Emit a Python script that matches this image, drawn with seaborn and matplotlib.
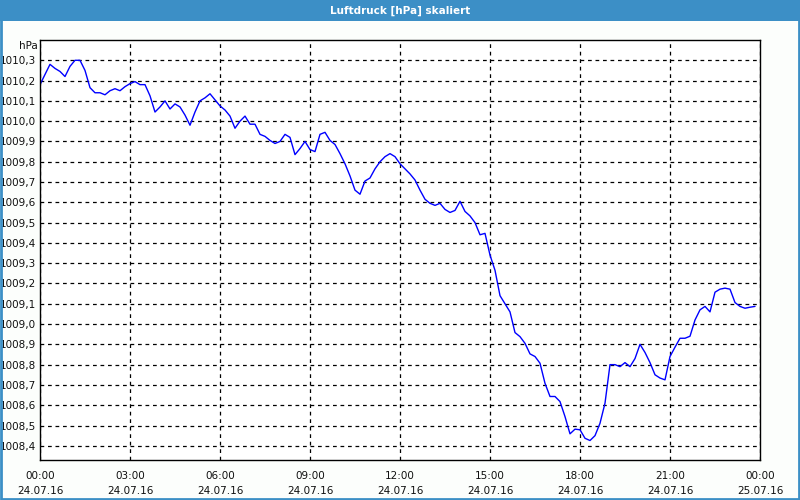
import numpy as np
import pandas as pd
import matplotlib
matplotlib.use("Agg")
import matplotlib.pyplot as plt
import matplotlib.dates as mdates
from matplotlib.patches import Rectangle
from matplotlib.ticker import FuncFormatter, FixedLocator
import seaborn as sns

title = "Luftdruck [hPa] skaliert"
unit = "hPa"
start_time = "2016-07-24 00:00"
step = "10min"
pressure = [
    1010.18, 1010.23, 1010.28, 1010.26, 1010.245, 1010.22, 1010.27, 1010.30, 1010.30, 1010.25,
    1010.165, 1010.14, 1010.14, 1010.13, 1010.15, 1010.16, 1010.15, 1010.17, 1010.185, 1010.195,
    1010.18, 1010.18, 1010.125, 1010.045, 1010.07, 1010.10, 1010.06, 1010.085, 1010.07, 1010.03,
    1009.98, 1010.045, 1010.10, 1010.115, 1010.135, 1010.105, 1010.075, 1010.055, 1010.025, 1009.965,
    1010.0, 1010.025, 1009.985, 1009.985, 1009.935, 1009.925, 1009.905, 1009.89, 1009.90, 1009.935,
    1009.92, 1009.835, 1009.865, 1009.90, 1009.86, 1009.85, 1009.935, 1009.945, 1009.905, 1009.885,
    1009.84, 1009.79, 1009.73, 1009.66, 1009.64, 1009.705, 1009.72, 1009.765, 1009.80, 1009.825,
    1009.84, 1009.825, 1009.79, 1009.765, 1009.74, 1009.71, 1009.66, 1009.615, 1009.595, 1009.585,
    1009.595, 1009.565, 1009.55, 1009.56, 1009.605, 1009.555, 1009.533, 1009.50, 1009.44, 1009.447,
    1009.34, 1009.265, 1009.14, 1009.10, 1009.06, 1008.958, 1008.938, 1008.905, 1008.853, 1008.84,
    1008.807, 1008.708, 1008.643, 1008.643, 1008.618, 1008.544, 1008.459, 1008.482, 1008.479, 1008.437,
    1008.426, 1008.45, 1008.511, 1008.61, 1008.80, 1008.80, 1008.79, 1008.81, 1008.79, 1008.83,
    1008.90, 1008.86, 1008.81, 1008.75, 1008.734, 1008.725, 1008.84, 1008.886, 1008.93, 1008.93,
    1008.94, 1009.02, 1009.07, 1009.087, 1009.06, 1009.157, 1009.172, 1009.177, 1009.172, 1009.106,
    1009.087, 1009.078, 1009.083, 1009.087,
]
y_ticks = [1008.4, 1008.5, 1008.6, 1008.7, 1008.8, 1008.9, 1009.0, 1009.1, 1009.2, 1009.3,
           1009.4, 1009.5, 1009.6, 1009.7, 1009.8, 1009.9, 1010.0, 1010.1, 1010.2, 1010.3]
x_start = "2016-07-24 00:00"
x_end = "2016-07-25 00:00"
y_min, y_max = 1008.33, 1010.40

df = pd.DataFrame({
    "time": pd.date_range(start_time, periods=len(pressure), freq=step),
    "p": pressure,
})

sns.set_style("white")
plt.rcParams["font.family"] = ["DejaVu Sans"]

fig = plt.figure(figsize=(8, 5), dpi=100, facecolor="#fcfefc")
ax = fig.add_axes([0.05, 0.08, 0.90, 0.84])
ax.set_facecolor("white")

sns.lineplot(data=df, x="time", y="p", ax=ax, color="#0000ff", linewidth=1.0)

ax.set_xlim(pd.Timestamp(x_start), pd.Timestamp(x_end))
ax.set_ylim(y_min, y_max)

ax.xaxis.set_major_locator(mdates.HourLocator(byhour=range(0, 24, 3)))
ax.xaxis.set_minor_locator(mdates.HourLocator())
ax.xaxis.set_major_formatter(mdates.DateFormatter("%H:%M\n%d.%m.%y"))
ax.yaxis.set_major_locator(FixedLocator(y_ticks))
ax.yaxis.set_major_formatter(FuncFormatter(lambda v, p: f"{v:.1f}".replace(".", ",")))

ax.grid(True, which="major", color="black", linestyle=(0, (3, 3)), linewidth=0.9)
ax.tick_params(axis="x", which="major", direction="out", length=4, width=1, color="black",
               labelsize=7.5, pad=4, labelcolor="#101010")
ax.tick_params(axis="x", which="minor", direction="out", length=3, width=1, color="black")
ax.tick_params(axis="y", which="major", length=0, labelsize=7.5, pad=3, labelcolor="#101010")
fig.canvas.draw()
for lbl in ax.get_xticklabels():
    lbl.set_linespacing(1.55)

for s in ax.spines.values():
    s.set_visible(True)
    s.set_color("black")
    s.set_linewidth(1.0)

ax.set_xlabel("")
ax.set_ylabel("")
ax.text(-0.003, 0.985, unit, transform=ax.transAxes, ha="right", va="center",
        fontsize=7.5, color="#101010")

# title band
fig.patches.append(Rectangle((0, 1 - 21 / 500), 1, 21 / 500, transform=fig.transFigure,
                             facecolor="#3c8fc6", edgecolor="none", zorder=0))
fig.text(0.5, 1 - 10.5 / 500, title, ha="center", va="center", color="white",
         fontsize=7.5, fontweight="bold")
fig.patches.append(Rectangle((0.001, 0.002), 0.998, 0.996, transform=fig.transFigure,
                             fill=False, edgecolor="#3c8fc6", linewidth=2.0))

fig.savefig("out.png", dpi=100, facecolor=fig.get_facecolor())
